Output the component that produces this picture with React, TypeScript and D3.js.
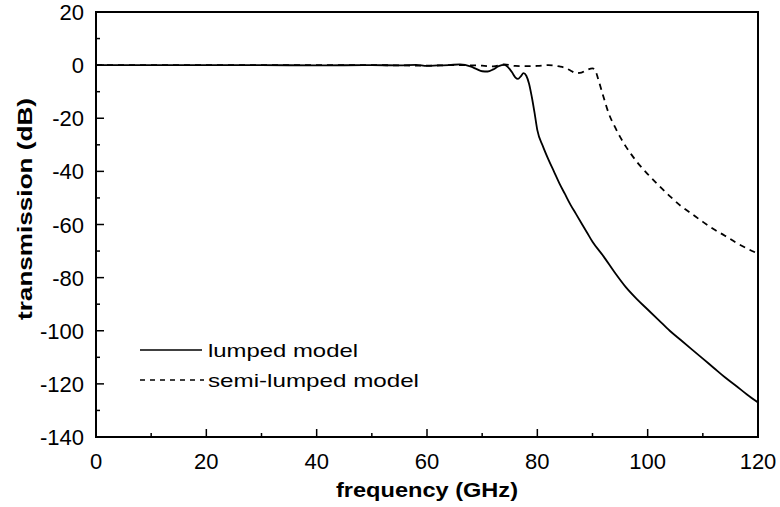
import React from "react";
import * as d3 from "d3";

const lumpedX = [0, 10, 20, 30, 40, 50, 55, 58, 60, 62, 64, 66, 68, 69, 70, 71, 72, 73, 74, 75, 75.5, 76, 76.5, 77, 77.5, 78, 78.5, 79, 79.5, 80, 81, 82, 83, 84, 85, 86, 87, 88, 89, 90, 92, 94, 96, 98, 100, 102, 104, 106, 108, 110, 112, 114, 116, 118, 120];
const lumpedY = [0, 0, 0, 0, -0.1, 0, -0.1, 0.1, -0.3, -0.1, 0, 0.3, -0.6, -1.5, -2.3, -2.4, -1.6, -0.4, 0.1, -1.5, -3, -4.6, -5.2, -4.2, -3, -4, -7, -12, -18, -24.5, -30.5, -35.5, -40, -44.5, -48.5, -52.5, -56, -59.5, -63, -66.5, -72, -78, -83.5, -88, -92, -96, -100, -103.5, -107, -110.5, -114, -117.5, -120.7, -124, -127];

const semiX = [0, 10, 20, 30, 40, 50, 60, 65, 70, 72, 74, 76, 78, 80, 82, 84, 85, 86, 87, 88, 89, 90, 90.5, 91, 91.5, 92, 93, 94, 95, 96, 97, 98, 100, 102, 104, 106, 108, 110, 112, 114, 116, 118, 120];
const semiY = [0, 0, 0, 0, 0, 0, -0.2, 0, -0.2, -0.5, 0.3, -0.3, -0.4, -0.3, 0, -0.5, -1, -2, -3, -2.8, -1.8, -1.2, -2, -5, -8.5, -12, -18.5, -23, -27, -30.5, -33.5, -36.3, -41, -45.3, -49.3, -53, -56, -59, -61.8, -64.2, -66.8, -69, -71];

const xTicks = [0, 20, 40, 60, 80, 100, 120];
const yTicks = [20, 0, -20, -40, -60, -80, -100, -120, -140];
const legendLabels = ["lumped model", "semi-lumped model"];

export default function App() {
  const W = 780, H = 507;
  const left = 96, right = 758, top = 12, bottom = 437;
  const x = d3.scaleLinear().domain([0, 120]).range([left, right]);
  const y = d3.scaleLinear().domain([-140, 20]).range([bottom, top]);
  const line = d3.line<[number, number]>().x(d => x(d[0])).y(d => y(d[1])).curve(d3.curveMonotoneX);
  const lumped = lumpedX.map((v, i) => [v, lumpedY[i]] as [number, number]);
  const semi = semiX.map((v, i) => [v, semiY[i]] as [number, number]);
  const xMinor = d3.range(10, 120, 20);
  const yMinor = d3.range(-130, 20, 20);
  const font = "'Liberation Sans', Arial, sans-serif";
  return (
    <svg width={W} height={H} style={{ position: "absolute", left: 0, top: 0, background: "#fff" }} fontFamily={font}>
      <rect x={0} y={0} width={W} height={H} fill="#fff" />
      <defs>
        <clipPath id="plot">
          <rect x={left} y={top} width={right - left} height={bottom - top} />
        </clipPath>
      </defs>
      <g clipPath="url(#plot)">
        <path d={line(lumped) || ""} fill="none" stroke="#000" strokeWidth={1.8} />
        <path d={line(semi) || ""} fill="none" stroke="#000" strokeWidth={1.8} strokeDasharray="6,5" />
      </g>
      <rect x={left} y={top} width={right - left} height={bottom - top} fill="none" stroke="#000" strokeWidth={2} />
      {xTicks.map(t => (
        <g key={"xt" + t}>
          <line x1={x(t)} x2={x(t)} y1={bottom} y2={bottom - 8} stroke="#000" strokeWidth={1.5} />
          <text x={x(t)} y={bottom + 32} textAnchor="middle" fontSize={22}>{t}</text>
        </g>
      ))}
      {xMinor.map(t => (
        <line key={"xm" + t} x1={x(t)} x2={x(t)} y1={bottom} y2={bottom - 4} stroke="#000" strokeWidth={1.5} />
      ))}
      {yTicks.map(t => (
        <g key={"yt" + t}>
          <line x1={left} x2={left + 8} y1={y(t)} y2={y(t)} stroke="#000" strokeWidth={1.5} />
          <text x={left - 12} y={y(t) + 8} textAnchor="end" fontSize={22}>{t}</text>
        </g>
      ))}
      {yMinor.map(t => (
        <line key={"ym" + t} x1={left} x2={left + 4} y1={y(t)} y2={y(t)} stroke="#000" strokeWidth={1.5} />
      ))}
      <text x={427} y={497} textAnchor="middle" fontSize={20} fontWeight="bold" textLength={182} lengthAdjust="spacingAndGlyphs">frequency (GHz)</text>
      <text transform={`translate(32, 209) rotate(-90)`} textAnchor="middle" fontSize={20} fontWeight="bold" textLength={222} lengthAdjust="spacingAndGlyphs">transmission (dB)</text>
      <line x1={140} x2={202} y1={350} y2={350} stroke="#000" strokeWidth={1.5} />
      <text x={208} y={357} fontSize={19} textLength={150} lengthAdjust="spacingAndGlyphs">{legendLabels[0]}</text>
      <line x1={140} x2={204} y1={380} y2={380} stroke="#000" strokeWidth={1.5} strokeDasharray="5,5" />
      <text x={208} y={387} fontSize={19} textLength={211} lengthAdjust="spacingAndGlyphs">{legendLabels[1]}</text>
    </svg>
  );
}
